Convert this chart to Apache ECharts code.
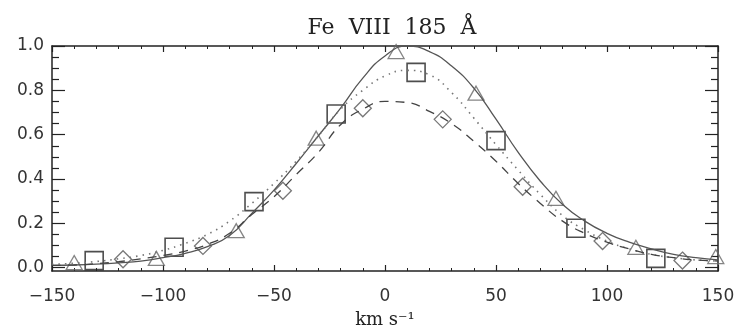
<!DOCTYPE html>
<html>
<head>
<meta charset="utf-8">
<script src="https://cdn.jsdelivr.net/npm/echarts@6/dist/echarts.min.js"></script>
<style>
  html, body { margin: 0; padding: 0; background: #fff; }
  #chart { width: 740px; height: 329px; }
</style>
</head>
<body>
<div id="chart"></div>
<script>
// ── Data (velocity in km/s, normalised intensity) ──
const curveVel = [-150, -140, -130, -120, -110, -100, -90, -80, -70, -60, -50, -40, -30, -20, -10, 0,
                  10, 20, 30, 40, 50, 60, 70, 80, 90, 100, 110, 120, 130, 140, 150];
const solidFit = [0.010, 0.012, 0.016, 0.022, 0.030, 0.045, 0.065, 0.095, 0.145, 0.245, 0.350, 0.470,
                  0.595, 0.720, 0.855, 0.955, 1.000, 0.975, 0.910, 0.810, 0.670, 0.520, 0.390, 0.285,
                  0.210, 0.155, 0.115, 0.085, 0.060, 0.045, 0.035];
const dottedFit = [0.015, 0.020, 0.028, 0.040, 0.055, 0.078, 0.110, 0.150, 0.210, 0.290, 0.380, 0.480,
                   0.595, 0.715, 0.800, 0.865, 0.890, 0.870, 0.790, 0.675, 0.555, 0.440, 0.330, 0.235,
                   0.170, 0.120, 0.085, 0.060, 0.045, 0.035, 0.030];
const dashedFit = [0.010, 0.012, 0.018, 0.027, 0.040, 0.055, 0.075, 0.105, 0.155, 0.240, 0.320, 0.420,
                   0.520, 0.645, 0.715, 0.750, 0.745, 0.705, 0.650, 0.570, 0.480, 0.380, 0.290, 0.210,
                   0.155, 0.115, 0.085, 0.060, 0.045, 0.035, 0.030];

const triVel  = [-140, -103, -67, -31, 5, 41, 77, 113, 149];
const triVals = [0.023, 0.042, 0.167, 0.584, 0.975, 0.787, 0.313, 0.092, 0.050];
const sqVel   = [-131, -95, -59, -22, 14, 50, 86, 122];
const sqVals  = [0.032, 0.092, 0.298, 0.693, 0.881, 0.573, 0.178, 0.042];
const diaVel  = [-118, -82, -46, -10, 26, 62, 98, 134];
const diaVals = [0.038, 0.098, 0.347, 0.719, 0.669, 0.365, 0.120, 0.032];

const yMajorTicks = [0, 0.2, 0.4, 0.6, 0.8, 1.0];
const yMinorTicks = [0.05, 0.1, 0.15, 0.25, 0.3, 0.35, 0.45, 0.5, 0.55, 0.65, 0.7, 0.75, 0.85, 0.9, 0.95];

const TITLE = 'Fe  VIII  185  Å';
const X_NAME = 'km s⁻¹';

// ── Style ──
const INK = '#222';
const SANS = '"DejaVu Sans", sans-serif';
const SERIF = '"DejaVu Serif", serif';
const X_RANGE = { min: -150, max: 150, interval: 50 };
const Y_RANGE = { min: -0.015, max: 1.0 };

const zip = (xs, ys) => xs.map((x, i) => [x, ys[i]]);

function xAxisOpt(position, showLabels) {
  return {
    type: 'value', position, ...X_RANGE,
    axisLine: { onZero: false, lineStyle: { color: INK, width: 1.5 } },
    axisTick: { inside: true, length: 6, lineStyle: { color: INK, width: 1.2 } },
    minorTick: { show: true, splitNumber: 5, length: 3, lineStyle: { color: INK, width: 1 } },
    splitLine: { show: false },
    axisLabel: {
      show: showLabels, margin: 17, color: '#333', fontFamily: SANS, fontSize: 17,
      formatter: v => String(v).replace('-', '\u2212'),
    },
  };
}

function yAxisOpt(position, ticks, len, showLine, showLabels) {
  return {
    type: 'value', position, ...Y_RANGE,
    axisLine: { show: showLine, onZero: false, lineStyle: { color: INK, width: 1.5 } },
    axisTick: { inside: true, length: len, customValues: ticks, lineStyle: { color: INK, width: 1.2 } },
    splitLine: { show: false },
    axisLabel: {
      show: showLabels, customValues: ticks, margin: 8, color: '#333', fontFamily: SANS, fontSize: 17,
      formatter: v => v.toFixed(1),
    },
  };
}

const chart = echarts.init(document.getElementById('chart'), null, { renderer: 'canvas' });

chart.setOption({
  animation: false,
  backgroundColor: '#fff',
  title: {
    text: TITLE, left: 387, top: 12, textAlign: 'center',
    textStyle: { fontFamily: SERIF, fontSize: 22, fontWeight: 'normal', color: '#222' },
  },
  // keep the plot box fixed; labels may sit in the margins
  grid: { left: 52, right: 22, top: 46, bottom: 58, outerBoundsMode: 'none' },
  xAxis: [
    {
      ...xAxisOpt('bottom', true),
      name: X_NAME, nameLocation: 'middle', nameGap: 40,
      nameTextStyle: { fontFamily: SERIF, fontSize: 18, color: '#222' },
    },
    xAxisOpt('top', false),
  ],
  yAxis: [
    yAxisOpt('left', yMajorTicks, 13, true, true),
    yAxisOpt('right', yMajorTicks, 13, true, false),
    yAxisOpt('left', yMinorTicks, 7, false, false),
    yAxisOpt('right', yMinorTicks, 7, false, false),
  ],
  series: [
    {
      name: 'Triangle fit', type: 'line', smooth: true, showSymbol: false,
      lineStyle: { color: '#555', width: 1.3, type: 'solid' },
      data: zip(curveVel, solidFit),
    },
    {
      name: 'Square fit', type: 'line', smooth: true, showSymbol: false,
      lineStyle: { color: '#777', width: 1.6, type: [1.5, 5] },
      data: zip(curveVel, dottedFit),
    },
    {
      name: 'Diamond fit', type: 'line', smooth: true, showSymbol: false,
      lineStyle: { color: '#444', width: 1.3, type: [9, 7] },
      data: zip(curveVel, dashedFit),
    },
    {
      name: 'Triangles', type: 'scatter', symbol: 'triangle', symbolSize: [16, 14],
      itemStyle: { color: 'rgba(0,0,0,0)', borderColor: '#666', borderWidth: 1.3 },
      data: zip(triVel, triVals),
    },
    {
      name: 'Squares', type: 'scatter', symbol: 'rect', symbolSize: 18,
      itemStyle: { color: 'rgba(0,0,0,0)', borderColor: '#222', borderWidth: 1.6 },
      data: zip(sqVel, sqVals),
    },
    {
      name: 'Diamonds', type: 'scatter', symbol: 'diamond', symbolSize: [17, 17],
      itemStyle: { color: 'rgba(0,0,0,0)', borderColor: '#555', borderWidth: 1.3 },
      data: zip(diaVel, diaVals),
    },
  ],
});
</script>
</body>
</html>
